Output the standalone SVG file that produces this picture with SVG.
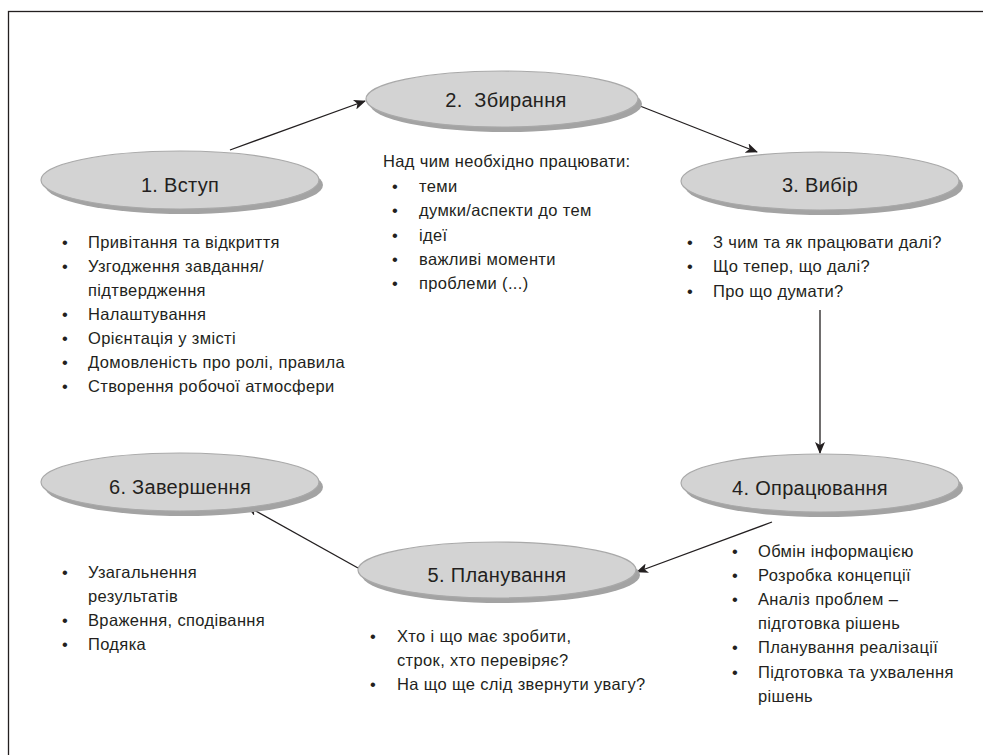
<svg xmlns="http://www.w3.org/2000/svg" width="983" height="755" viewBox="0 0 983 755">
<defs>
<style>
.sh{fill:#a3a3a3}
.el{fill:#d3d3d3;stroke:#a9a9a9;stroke-width:1.2}
.t{font-family:"Liberation Sans","DejaVu Sans",sans-serif;fill:#231f20}
.h{font-size:20px;text-anchor:middle;letter-spacing:0.3px}
.l{font-size:16.5px;letter-spacing:0.35px}
.c{stroke:#231f20;stroke-width:1.3;fill:none;marker-end:url(#ah)}
</style>
<marker id="ah" viewBox="0 0 12 10" refX="11" refY="5" markerWidth="12" markerHeight="10" markerUnits="userSpaceOnUse" orient="auto">
<path d="M0,0 L12,5 L0,10 L3,5 Z" fill="#231f20"/>
</marker>
</defs>
<rect x="0" y="0" width="983" height="755" fill="#fff"/>
<rect x="8.5" y="11.5" width="990" height="770" fill="none" stroke="#231f20" stroke-width="1.3"/>
<g id="connectors">
<line class="c" x1="230" y1="150" x2="365" y2="101"/>
<line class="c" x1="640" y1="106" x2="757" y2="152"/>
<line class="c" x1="820" y1="310" x2="820" y2="453"/>
<line class="c" x1="772" y1="522" x2="637" y2="572"/>
<line class="c" x1="358" y1="568" x2="247" y2="506"/>
</g>
<g id="node1">
<ellipse class="sh" cx="184" cy="185" rx="139" ry="29"/>
<ellipse class="el" cx="180" cy="180" rx="139" ry="29"/>
<text class="t h" x="180" y="192">1. Вступ</text>
<g class="t l">
<text x="62" y="248">•</text><text x="88" y="248">Привітання та відкриття</text>
<text x="62" y="272">•</text><text x="88" y="272">Узгодження завдання/</text>
<text x="88" y="296">підтвердження</text>
<text x="62" y="320">•</text><text x="88" y="320">Налаштування</text>
<text x="62" y="344">•</text><text x="88" y="344">Орієнтація у змісті</text>
<text x="62" y="368">•</text><text x="88" y="368">Домовленість про ролі, правила</text>
<text x="62" y="392">•</text><text x="88" y="392">Створення робочої атмосфери</text>
</g>
</g>
<g id="node2">
<ellipse class="sh" cx="506" cy="104" rx="136" ry="28"/>
<ellipse class="el" cx="502" cy="99" rx="136" ry="28"/>
<text class="t h" x="506" y="107" xml:space="preserve">2.  Збирання</text>
<g class="t l">
<text x="383" y="167">Над чим необхідно працювати:</text>
<text x="392" y="192">•</text><text x="419" y="192">теми</text>
<text x="392" y="216">•</text><text x="419" y="216">думки/аспекти до тем</text>
<text x="392" y="241">•</text><text x="419" y="241">ідеї</text>
<text x="392" y="265">•</text><text x="419" y="265">важливі моменти</text>
<text x="392" y="289">•</text><text x="419" y="289">проблеми (...)</text>
</g>
</g>
<g id="node3">
<ellipse class="sh" cx="824" cy="186" rx="139" ry="29"/>
<ellipse class="el" cx="820" cy="181" rx="139" ry="29"/>
<text class="t h" x="820" y="192">3. Вибір</text>
<g class="t l">
<text x="687" y="248">•</text><text x="713" y="248">З чим та як працювати далі?</text>
<text x="687" y="272">•</text><text x="713" y="272">Що тепер, що далі?</text>
<text x="687" y="297">•</text><text x="713" y="297">Про що думати?</text>
</g>
</g>
<g id="node4">
<ellipse class="sh" cx="824" cy="488" rx="139" ry="29"/>
<ellipse class="el" cx="820" cy="483" rx="139" ry="29"/>
<text class="t h" x="810" y="495">4. Опрацювання</text>
<g class="t l">
<text x="732" y="557">•</text><text x="758" y="557">Обмін інформацією</text>
<text x="732" y="581">•</text><text x="758" y="581">Розробка концепції</text>
<text x="732" y="605">•</text><text x="758" y="605">Аналіз проблем –</text>
<text x="758" y="629">підготовка рішень</text>
<text x="732" y="653">•</text><text x="758" y="653">Планування реалізації</text>
<text x="732" y="678">•</text><text x="758" y="678">Підготовка та ухвалення</text>
<text x="758" y="702">рішень</text>
</g>
</g>
<g id="node5">
<ellipse class="sh" cx="501" cy="575" rx="139" ry="28"/>
<ellipse class="el" cx="497" cy="570" rx="139" ry="28"/>
<text class="t h" x="497" y="582">5. Планування</text>
<g class="t l">
<text x="370" y="642">•</text><text x="397" y="642">Хто і що має зробити,</text>
<text x="397" y="666">строк, хто перевіряє?</text>
<text x="370" y="690">•</text><text x="397" y="690">На що ще слід звернути увагу?</text>
</g>
</g>
<g id="node6">
<ellipse class="sh" cx="184" cy="487" rx="139" ry="29"/>
<ellipse class="el" cx="180" cy="482" rx="139" ry="29"/>
<text class="t h" x="180" y="494">6. Завершення</text>
<g class="t l">
<text x="62" y="578">•</text><text x="88" y="578">Узагальнення</text>
<text x="88" y="602">результатів</text>
<text x="62" y="626">•</text><text x="88" y="626">Враження, сподівання</text>
<text x="62" y="650">•</text><text x="88" y="650">Подяка</text>
</g>
</g>
</svg>
